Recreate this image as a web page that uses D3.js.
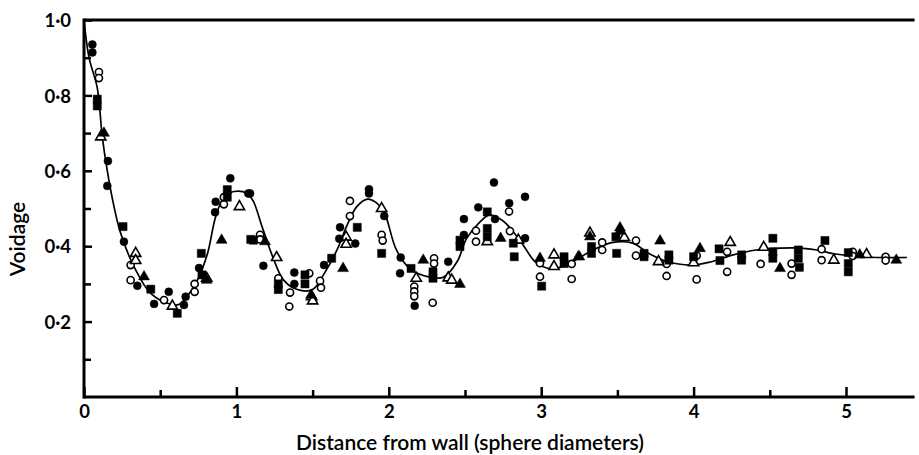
<!DOCTYPE html>
<html>
<head>
<meta charset="utf-8">
<script src="https://cdn.jsdelivr.net/npm/d3@7"></script>
<style>
  body { margin: 0; background: #fff; }
  svg text { font-family: Lato, "Open Sans", sans-serif; fill: #000; }
</style>
</head>
<body>
<div id="chart"></div>
<script>
// fitted curve (distance, voidage)
const curveX = [0, 0.033, 0.087, 0.12, 0.153, 0.197, 0.24, 0.328, 0.438, 0.569, 0.62, 0.656, 0.744, 0.81, 0.864, 0.919, 0.984, 1.07, 1.11, 1.17, 1.24, 1.31, 1.40, 1.50, 1.58, 1.66, 1.72, 1.79, 1.86, 1.92, 1.97, 2.05, 2.14, 2.27, 2.36, 2.45, 2.51, 2.60, 2.66, 2.72, 2.77, 2.87, 2.97, 3.08, 3.21, 3.34, 3.47, 3.60, 3.71, 3.82, 3.98, 4.11, 4.26, 4.41, 4.57, 4.70, 4.81, 4.92, 5.05, 5.20, 5.40];
const curveY = [1.0, 0.90, 0.82, 0.69, 0.60, 0.505, 0.435, 0.346, 0.275, 0.246, 0.245, 0.257, 0.31, 0.38, 0.478, 0.53, 0.545, 0.54, 0.52, 0.45, 0.37, 0.31, 0.285, 0.285, 0.33, 0.39, 0.45, 0.505, 0.525, 0.515, 0.49, 0.39, 0.34, 0.318, 0.318, 0.36, 0.42, 0.465, 0.483, 0.475, 0.46, 0.41, 0.355, 0.34, 0.36, 0.39, 0.41, 0.408, 0.38, 0.36, 0.35, 0.358, 0.377, 0.39, 0.395, 0.395, 0.39, 0.38, 0.374, 0.37, 0.37];

// measured points, one list per marker type
const filledCircles = [[0.055,0.935],[0.055,0.914],[0.157,0.626],[0.153,0.56],[0.262,0.412],[0.35,0.295],[0.46,0.247],[0.556,0.279],[0.656,0.244],[0.667,0.266],[0.755,0.342],[0.86,0.49],[0.864,0.518],[0.96,0.58],[1.078,0.54],[1.09,0.54],[1.177,0.348],[1.38,0.33],[1.38,0.30],[1.575,0.35],[1.68,0.45],[1.675,0.42],[1.78,0.407],[1.87,0.551],[1.87,0.54],[1.97,0.48],[2.078,0.37],[2.074,0.328],[2.17,0.242],[2.39,0.359],[2.493,0.472],[2.493,0.43],[2.587,0.503],[2.69,0.569],[2.697,0.472],[2.79,0.514],[2.894,0.531],[2.894,0.421]];
const openCircles = [[0.098,0.862],[0.098,0.846],[0.306,0.35],[0.306,0.31],[0.525,0.257],[0.726,0.30],[0.726,0.279],[0.918,0.53],[0.918,0.511],[1.155,0.43],[1.155,0.418],[1.275,0.315],[1.347,0.24],[1.352,0.277],[1.478,0.328],[1.549,0.308],[1.555,0.29],[1.745,0.52],[1.745,0.48],[1.953,0.43],[1.96,0.415],[2.167,0.293],[2.167,0.28],[2.167,0.267],[2.288,0.25],[2.297,0.368],[2.297,0.354],[2.572,0.441],[2.572,0.412],[2.789,0.492],[2.795,0.44],[2.992,0.355],[2.992,0.319],[3.2,0.353],[3.2,0.313],[3.40,0.41],[3.40,0.39],[3.622,0.415],[3.622,0.375],[3.823,0.353],[3.823,0.321],[4.02,0.375],[4.02,0.312],[4.22,0.385],[4.22,0.332],[4.44,0.353],[4.643,0.354],[4.643,0.324],[4.84,0.392],[4.84,0.363],[5.044,0.385],[5.044,0.374],[5.26,0.372],[5.26,0.362]];
const filledSquares = [[0.087,0.79],[0.087,0.772],[0.256,0.452],[0.438,0.286],[0.612,0.222],[0.77,0.381],[0.774,0.324],[0.94,0.55],[0.94,0.53],[1.094,0.418],[1.111,0.416],[1.275,0.30],[1.275,0.285],[1.45,0.324],[1.45,0.30],[1.625,0.368],[1.793,0.45],[1.953,0.381],[2.146,0.341],[2.29,0.332],[2.29,0.315],[2.467,0.416],[2.467,0.399],[2.646,0.491],[2.646,0.447],[2.646,0.425],[2.817,0.408],[2.823,0.372],[3.003,0.294],[3.15,0.372],[3.15,0.354],[3.33,0.399],[3.33,0.381],[3.49,0.425],[3.495,0.381],[3.675,0.381],[3.675,0.372],[3.838,0.377],[3.838,0.363],[4.0,0.372],[4.167,0.393],[4.173,0.362],[4.315,0.377],[4.315,0.363],[4.52,0.421],[4.52,0.385],[4.52,0.368],[4.687,0.39],[4.687,0.368],[4.694,0.344],[4.862,0.415],[5.015,0.383],[5.015,0.354],[5.015,0.332]];
const filledTriangles = [[0.131,0.70],[0.394,0.319],[0.805,0.31],[0.903,0.416],[1.188,0.412],[1.49,0.27],[1.70,0.341],[2.226,0.363],[2.467,0.299],[2.734,0.421],[2.992,0.368],[3.243,0.372],[3.25,0.372],[3.32,0.425],[3.517,0.449],[3.517,0.44],[3.78,0.414],[4.042,0.394],[4.567,0.341],[5.09,0.377],[5.33,0.363]];
const openTriangles = [[0.11,0.69],[0.339,0.381],[0.339,0.362],[0.58,0.241],[0.805,0.315],[1.02,0.505],[1.264,0.37],[1.494,0.266],[1.5,0.255],[1.72,0.424],[1.72,0.405],[1.953,0.50],[2.18,0.315],[2.39,0.316],[2.413,0.31],[2.646,0.412],[2.85,0.416],[3.084,0.377],[3.084,0.346],[3.32,0.435],[3.545,0.423],[3.77,0.359],[4.0,0.356],[4.24,0.41],[4.46,0.397],[4.92,0.363],[5.135,0.378]];

const xMajor = [0, 1, 2, 3, 4, 5];
const xMinor = [0.5, 1.5, 2.5, 3.5, 4.5];
const yMajor = [0.2, 0.4, 0.6, 0.8, 1.0];
const yMinor = [0.1, 0.3, 0.5, 0.7, 0.9];

const W = 919, H = 455;
const svg = d3.select("#chart").append("svg").attr("width", W).attr("height", H);

const x = d3.scaleLinear().domain([0, 5.45]).range([84, 84 + 5.45 * 152.4]);
const y = d3.scaleLinear().domain([0, 1]).range([397, 20]);

const fmt = d => d3.format(".1f")(d).replace(".", "·");

// minor ticks
svg.append("g").attr("transform", `translate(${x(0)},0)`)
  .call(d3.axisLeft(y).tickValues(yMinor).tickSize(-7).tickFormat(""))
  .call(g => g.select(".domain").remove())
  .selectAll("line").attr("stroke-width", 2.5);
svg.append("g").attr("transform", `translate(0,${y(0)})`)
  .call(d3.axisBottom(x).tickValues(xMinor).tickSize(-7).tickFormat(""))
  .call(g => g.select(".domain").remove())
  .selectAll("line").attr("stroke-width", 2.5);

// major ticks + labels
const yAxis = svg.append("g").attr("transform", `translate(${x(0)},0)`)
  .call(d3.axisLeft(y).tickValues(yMajor).tickSize(-8).tickPadding(13).tickFormat(fmt));
yAxis.select(".domain").remove();
yAxis.selectAll("line").attr("stroke-width", 2.5);
yAxis.selectAll("text").attr("font-size", 18.5).attr("font-weight", 700).attr("dy", "0.36em");

const xAxis = svg.append("g").attr("transform", `translate(0,${y(0)})`)
  .call(d3.axisBottom(x).tickValues(xMajor).tickSize(-10).tickPadding(8).tickFormat(d3.format("d")));
xAxis.select(".domain").remove();
xAxis.selectAll("line").attr("stroke-width", 2.5);
xAxis.selectAll("text").attr("font-size", 18.5).attr("font-weight", 700);

// frame: left, bottom, top
const frame = svg.append("g").attr("stroke", "#000").attr("stroke-width", 3).attr("fill", "none");
frame.append("line").attr("x1", x(0)).attr("x2", x(0)).attr("y1", y(1) - 1.5).attr("y2", y(0) + 1.5);
frame.append("line").attr("x1", x(0)).attr("x2", x(5.45)).attr("y1", y(0)).attr("y2", y(0));
frame.append("line").attr("x1", x(0)).attr("x2", x(5.45)).attr("y1", y(1)).attr("y2", y(1));

// curve
const curvePts = curveX.map((d, i) => [d, curveY[i]]);
svg.append("path")
  .attr("d", d3.line().x(d => x(d[0])).y(d => y(d[1])).curve(d3.curveCatmullRom.alpha(0.5))(curvePts))
  .attr("fill", "none").attr("stroke", "#000").attr("stroke-width", 1.7);

// markers
const marks = svg.append("g");
function drawSet(data, type, size, filled) {
  marks.append("g").selectAll("path").data(data).join("path")
    .attr("transform", d => `translate(${x(d[0])},${y(d[1])})`)
    .attr("d", d3.symbol().type(type).size(size))
    .attr("fill", filled ? "#000" : "#fff")
    .attr("stroke", "#000")
    .attr("stroke-width", filled ? 0.5 : 1.6);
}
drawSet(openCircles, d3.symbolCircle, 40, false);
drawSet(openTriangles, d3.symbolTriangle, 46, false);
drawSet(filledSquares, d3.symbolSquare, 66, true);
drawSet(filledTriangles, d3.symbolTriangle, 52, true);
drawSet(filledCircles, d3.symbolCircle, 50, true);

// axis titles
svg.append("text").attr("x", 470).attr("y", 450).attr("text-anchor", "middle")
  .attr("font-size", 21).attr("font-weight", 600).text("Distance from wall (sphere diameters)");
svg.append("text").attr("transform", "translate(25,239) rotate(-90)").attr("text-anchor", "middle")
  .attr("font-size", 21).attr("font-weight", 600).text("Voidage");
</script>
</body>
</html>
